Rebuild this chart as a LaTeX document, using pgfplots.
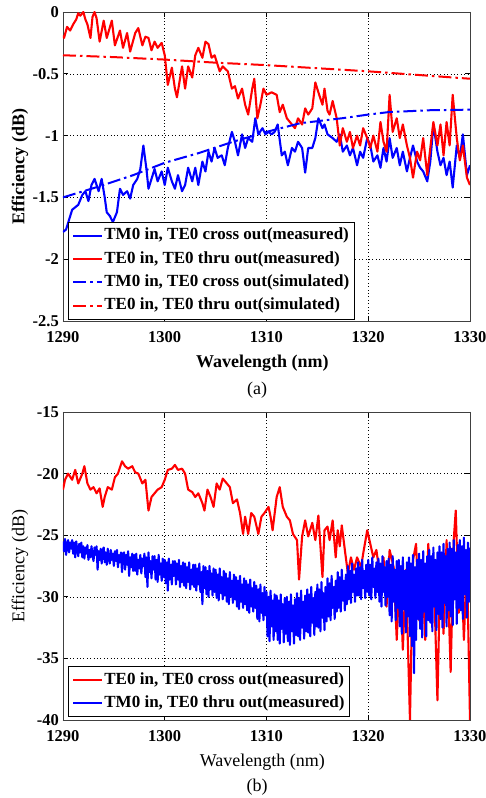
\documentclass[border=0pt]{standalone}
\usepackage{fontspec}
\setmainfont{Liberation Serif}
\usepackage{pgfplots}
\pgfplotsset{compat=1.18}
\definecolor{mred}{RGB}{255,0,0}
\definecolor{mblue}{RGB}{0,0,255}
\pgfplotsset{
  effaxis/.style={
    scale only axis, width=407pt, anchor=south west,
    xmin=1290, xmax=1330,
    xtick={1290,1300,1310,1320,1330},
    xticklabels={1290,1300,1310,1320,1330},
    grid=major,
    major grid style={black, line width=0.5pt, dash pattern=on 0.8pt off 2.6pt},
    tick align=inside, major tick length=5pt,
    axis line style={black!75, line width=0.8pt},
    tick style={black, line width=0.6pt},
    ticklabel style={font=\fontsize{16.5}{16.5}\selectfont\bfseries, inner sep=1pt},
    xticklabel style={yshift=-9pt},
    yticklabel style={xshift=-3pt},
    xlabel style={at={(axis description cs:0.49,-0.136)}, anchor=center},
    ylabel style={at={(axis description cs:-0.106,0.5)}, anchor=center},
    legend cell align=left,
    legend image code/.code={\draw[##1] (0pt,0pt) -- (29pt,0pt);},
  },
  meas/.style={line width=2.1pt, line join=round},
  simu/.style={line width=2pt, dash pattern=on 13pt off 4pt on 2.5pt off 4pt},
}
\begin{document}
\begin{tikzpicture}
\path[use as bounding box] (0pt,0pt) rectangle (486pt,798pt);
% ---------------- (a) ----------------
\begin{axis}[effaxis, at={(63pt,477pt)}, height=309pt,
  ymin=-2.5, ymax=0,
  ytick={-2.5,-2,-1.5,-1,-0.5,0},
  yticklabels={-2.5,-2,-1.5,-1,-0.5,0},
  xlabel={Wavelength (nm)}, ylabel={Efficiency (dB)},
  label style={font=\fontsize{18}{18}\selectfont\bfseries},
  legend style={at={(axis description cs:0.0123,0.0032)}, anchor=south west,
    draw=black, line width=0.6pt, fill=white,
    font=\fontsize{17}{17}\selectfont\bfseries,
    inner xsep=4pt, inner ysep=5pt, row sep=5.3pt,
    nodes={inner sep=1pt, text height=12pt, text depth=4pt}},
]
\addplot[meas, mblue] coordinates {
(1290.0,-1.78)(1290.3,-1.76)(1290.6,-1.68)(1290.9,-1.60)(1291.2,-1.58)(1291.5,-1.56)
(1291.9,-1.48)(1292.2,-1.45)(1292.5,-1.53)(1292.8,-1.40)(1293.1,-1.35)(1293.5,-1.45)
(1293.8,-1.35)(1294.1,-1.50)(1294.3,-1.62)(1294.6,-1.65)(1294.9,-1.70)(1295.3,-1.62)
(1295.6,-1.43)(1295.9,-1.48)(1296.3,-1.45)(1296.6,-1.51)(1296.9,-1.40)(1297.3,-1.35)
(1297.6,-1.27)(1297.9,-1.08)(1298.2,-1.27)(1298.4,-1.43)(1298.7,-1.35)(1299.0,-1.27)
(1299.3,-1.37)(1299.7,-1.29)(1300.0,-1.40)(1300.3,-1.26)(1300.7,-1.37)(1301.0,-1.43)
(1301.3,-1.32)(1301.7,-1.45)(1302.0,-1.40)(1302.3,-1.26)(1302.7,-1.37)(1303.0,-1.26)
(1303.3,-1.40)(1303.7,-1.21)(1304.0,-1.29)(1304.3,-1.13)(1304.6,-1.21)(1304.9,-1.10)
(1305.2,-1.18)(1305.6,-1.16)(1305.9,-1.24)(1306.2,-1.10)(1306.6,-0.97)(1306.9,-1.05)
(1307.2,-1.16)(1307.6,-0.99)(1307.9,-1.10)(1308.2,-1.02)(1308.6,-1.05)(1308.9,-0.86)
(1309.2,-0.99)(1309.6,-0.94)(1309.9,-0.99)(1310.2,-0.97)(1310.5,-0.99)(1310.8,-0.97)
(1311.1,-0.91)(1311.5,-1.16)(1311.8,-1.13)(1312.1,-1.24)(1312.5,-1.10)(1312.8,-1.13)
(1313.1,-1.05)(1313.5,-1.10)(1313.8,-1.30)(1314.1,-1.10)(1314.5,-1.10)(1314.8,-1.02)
(1315.1,-0.86)(1315.5,-0.94)(1315.7,-0.91)(1316.0,-0.99)(1316.5,-1.02)(1316.9,-1.05)
(1317.2,-0.99)(1317.5,-1.13)(1317.9,-1.08)(1318.2,-1.16)(1318.5,-1.10)(1318.9,-1.24)
(1319.2,-1.13)(1319.5,-1.18)(1319.9,-1.02)(1320.2,-1.08)(1320.5,-1.21)(1320.9,-1.16)
(1321.2,-1.26)(1321.5,-1.10)(1321.8,-1.21)(1322.1,-1.02)(1322.4,-1.18)(1322.8,-1.10)
(1323.1,-1.24)(1323.4,-1.13)(1323.8,-1.29)(1324.1,-1.18)(1324.4,-1.08)(1324.8,-1.21)
(1325.1,-1.26)(1325.4,-1.29)(1325.8,-1.37)(1326.1,-1.21)(1326.4,-0.91)(1326.8,-1.13)
(1327.1,-1.24)(1327.4,-1.18)(1327.7,-1.32)(1328.0,-1.21)(1328.3,-1.42)(1328.7,-1.08)
(1329.0,-1.18)(1329.3,-0.99)(1329.7,-1.32)(1330.0,-1.24)
};
\addlegendentry{TM0 in, TE0 cross out(measured)}
\addplot[meas, mred] coordinates {
(1290.0,-0.19)(1290.1,-0.21)(1290.4,-0.12)(1290.7,-0.15)(1291.0,-0.10)(1291.3,-0.06)
(1291.5,-0.01)(1291.7,-0.03)(1292.0,0.0)(1292.2,-0.06)(1292.4,-0.10)(1292.7,-0.21)
(1292.9,-0.04)(1293.1,0.0)(1293.3,-0.05)(1293.6,-0.24)(1294.0,-0.07)(1294.3,-0.21)
(1294.8,-0.07)(1295.1,-0.27)(1295.6,-0.15)(1295.9,-0.29)(1296.3,-0.17)(1296.6,-0.32)
(1297.1,-0.17)(1297.4,-0.13)(1297.8,-0.27)(1298.1,-0.20)(1298.4,-0.21)(1298.7,-0.31)
(1299.0,-0.24)(1299.3,-0.29)(1299.7,-0.25)(1300.0,-0.35)(1300.3,-0.59)(1300.7,-0.45)
(1301.0,-0.62)(1301.2,-0.69)(1301.7,-0.44)(1302.0,-0.62)(1302.3,-0.44)(1302.7,-0.53)
(1303.0,-0.35)(1303.3,-0.29)(1303.7,-0.37)(1304.0,-0.24)(1304.3,-0.26)(1304.6,-0.37)
(1304.9,-0.35)(1305.4,-0.48)(1305.7,-0.44)(1306.2,-0.48)(1306.6,-0.62)(1306.9,-0.60)
(1307.2,-0.70)(1307.6,-0.62)(1307.9,-0.75)(1308.2,-0.83)(1308.6,-0.62)(1308.8,-0.54)
(1309.1,-0.86)(1309.4,-0.75)(1309.7,-0.62)(1310.0,-0.67)(1310.5,-0.65)(1311.0,-0.67)
(1311.3,-0.81)(1311.6,-0.75)(1312.0,-0.86)(1312.3,-0.89)(1312.8,-0.94)(1313.1,-0.86)
(1313.5,-0.91)(1313.8,-0.78)(1314.1,-0.83)(1314.5,-0.78)(1314.8,-0.57)(1315.1,-0.65)
(1315.5,-0.75)(1315.7,-0.62)(1316.0,-0.80)(1316.2,-0.83)(1316.5,-0.72)(1316.9,-0.86)
(1317.2,-1.08)(1317.5,-0.94)(1317.9,-1.05)(1318.2,-0.97)(1318.5,-1.10)(1318.9,-1.00)
(1319.2,-1.08)(1319.5,-0.94)(1319.9,-1.02)(1320.2,-1.10)(1320.5,-1.00)(1320.9,-1.13)
(1321.2,-0.89)(1321.5,-1.05)(1321.8,-1.13)(1322.1,-0.67)(1322.4,-0.97)(1322.8,-0.86)
(1323.1,-1.02)(1323.4,-0.91)(1323.8,-1.08)(1324.1,-1.18)(1324.4,-1.34)(1324.8,-1.13)
(1325.1,-1.20)(1325.4,-1.02)(1325.8,-1.32)(1326.1,-1.10)(1326.4,-0.89)(1326.8,-1.08)
(1327.1,-0.91)(1327.4,-1.16)(1327.7,-0.89)(1328.0,-1.08)(1328.3,-0.67)(1328.7,-1.02)
(1329.0,-1.20)(1329.3,-1.08)(1329.7,-1.34)(1330.0,-1.40)
};
\addlegendentry{TE0 in, TE0 thru out(measured)}
\addplot[simu, mblue] coordinates {
(1290,-1.50)(1293.6,-1.41)(1296.9,-1.32)(1300,-1.22)(1303.4,-1.14)(1306.7,-1.05)
(1310,-0.97)(1313.3,-0.90)(1317.4,-0.86)(1320,-0.83)(1322,-0.81)(1326,-0.795)(1330,-0.79)
};
\addlegendentry{TM0 in, TE0 cross out(simulated)}
\addplot[simu, mred] coordinates {
(1290,-0.35)(1295,-0.365)(1300,-0.385)(1305,-0.41)(1310,-0.43)(1315,-0.455)
(1320,-0.48)(1325,-0.51)(1330,-0.54)
};
\addlegendentry{TE0 in, TE0 thru out(simulated)}
\end{axis}
\node[font=\fontsize{18}{18}\selectfont] at (257pt,408pt) {(a)};
% ---------------- (b) ----------------
\begin{axis}[effaxis, at={(63pt,78pt)}, height=308pt,
  ymin=-40, ymax=-15,
  ytick={-40,-35,-30,-25,-20,-15},
  yticklabels={-40,-35,-30,-25,-20,-15},
  xlabel={Wavelength (nm)}, ylabel={Efficiency (dB)},
  label style={font=\fontsize{18}{18}\selectfont},
  legend style={at={(axis description cs:0.0123,0.0097)}, anchor=south west,
    draw=black, line width=0.6pt, fill=white,
    font=\fontsize{17}{17}\selectfont\bfseries,
    inner xsep=4pt, inner ysep=4.5pt, row sep=5pt,
    nodes={inner sep=1pt, text height=12pt, text depth=4pt}},
]
\addplot[meas, mred] coordinates {
(1290.0,-21.3)(1290.2,-20.5)(1290.5,-20.0)(1290.9,-20.5)(1291.2,-19.7)(1291.5,-20.8)
(1291.9,-20.0)(1292.1,-19.4)(1292.4,-20.8)(1292.7,-21.3)(1293.0,-21.1)(1293.3,-21.6)
(1293.6,-21.2)(1293.9,-22.7)(1294.1,-21.9)(1294.4,-21.1)(1294.8,-21.3)(1295.1,-20.3)
(1295.4,-20.0)(1295.8,-19.0)(1296.1,-19.4)(1296.4,-19.6)(1296.8,-19.4)(1297.1,-19.9)
(1297.4,-20.0)(1297.8,-20.8)(1298.1,-20.5)(1298.4,-23.0)(1298.7,-21.9)(1299.0,-21.6)
(1299.3,-21.3)(1299.7,-21.1)(1300.0,-20.5)(1300.3,-19.7)(1300.7,-19.6)(1301.0,-19.3)
(1301.3,-19.7)(1301.7,-19.6)(1302.0,-20.0)(1302.3,-21.3)(1302.7,-21.5)(1303.0,-21.9)
(1303.3,-21.6)(1303.7,-22.4)(1303.9,-23.0)(1304.2,-21.3)(1304.5,-21.9)(1304.8,-22.7)
(1305.1,-20.8)(1305.4,-21.3)(1305.7,-20.4)(1306.1,-20.8)(1306.4,-21.1)(1306.7,-22.4)
(1307.1,-22.1)(1307.4,-23.2)(1307.7,-24.9)(1307.9,-23.5)(1308.2,-24.9)(1308.5,-23.2)
(1308.8,-23.5)(1309.2,-24.9)(1309.5,-23.5)(1309.8,-23.2)(1310.2,-22.7)(1310.4,-23.5)
(1310.6,-24.6)(1311.0,-21.9)(1311.3,-21.1)(1311.6,-22.7)(1312.0,-23.5)(1312.3,-23.8)
(1312.6,-24.9)(1313.0,-25.4)(1313.2,-28.6)(1313.5,-25.1)(1313.8,-23.8)(1314.1,-25.1)
(1314.5,-24.0)(1314.8,-25.4)(1315.1,-23.4)(1315.5,-28.4)(1315.7,-24.6)(1316.0,-24.3)
(1316.2,-25.4)(1316.5,-23.8)(1316.8,-26.8)(1317.0,-24.6)(1317.2,-25.9)(1317.4,-24.2)
(1317.7,-26.2)(1318.0,-28.1)(1318.3,-26.8)(1318.6,-27.8)(1318.9,-26.8)(1319.3,-27.6)
(1319.5,-26.5)(1319.9,-24.6)(1320.2,-25.7)(1320.5,-26.8)(1320.8,-26.2)(1321.2,-28.6)
(1321.5,-26.8)(1321.8,-30.8)(1322.1,-26.2)(1322.5,-27.6)(1322.8,-33.5)(1323.1,-27.6)
(1323.4,-34.3)(1323.7,-27.8)(1324.1,-40.0)(1324.4,-27.0)(1324.7,-25.7)(1325.0,-31.9)
(1325.3,-27.6)(1325.6,-33.5)(1325.9,-25.7)(1326.2,-31.3)(1326.4,-27.0)(1326.8,-38.4)
(1327.1,-26.8)(1327.4,-33.0)(1327.7,-25.4)(1328.1,-36.1)(1328.4,-25.4)(1328.6,-23.0)
(1328.9,-31.3)(1329.1,-26.2)(1329.4,-33.5)(1329.7,-26.8)(1330.0,-40.0)
};
\addlegendentry{TE0 in, TE0 cross out(measured)}
\addplot[meas, mblue] coordinates {
(1290.0,-25.5)(1290.1,-26.3)(1290.2,-25.3)(1290.3,-26.6)(1290.4,-25.8)(1290.5,-25.4)(1290.6,-26.4)(1290.7,-25.6)(1290.8,-26.1)(1290.9,-25.4)
(1291.0,-26.5)(1291.1,-25.6)(1291.2,-26.8)(1291.3,-25.5)(1291.4,-26.2)(1291.5,-26.7)(1291.6,-25.7)(1291.7,-26.4)(1291.8,-25.6)(1291.9,-26.8)
(1292.0,-25.9)(1292.1,-26.9)(1292.2,-26.0)(1292.3,-26.5)(1292.4,-25.8)(1292.5,-27.0)(1292.6,-26.2)(1292.7,-26.8)(1292.8,-25.9)(1292.9,-26.6)
(1293.0,-27.1)(1293.1,-26.0)(1293.2,-26.6)(1293.3,-25.9)(1293.4,-27.8)(1293.5,-26.3)(1293.6,-27.0)(1293.7,-26.1)(1293.8,-27.3)(1293.9,-26.2)
(1294.0,-26.0)(1294.1,-27.2)(1294.2,-26.4)(1294.3,-27.4)(1294.4,-26.1)(1294.5,-26.9)(1294.6,-27.3)(1294.7,-26.2)(1294.8,-27.0)(1294.9,-26.5)
(1295.0,-27.5)(1295.1,-26.3)(1295.2,-27.1)(1295.3,-26.2)(1295.4,-27.6)(1295.5,-26.6)(1295.6,-27.2)(1295.7,-26.4)(1295.8,-28.0)(1295.9,-26.5)
(1296.0,-26.4)(1296.1,-27.8)(1296.2,-26.6)(1296.3,-27.4)(1296.4,-26.3)(1296.5,-28.3)(1296.6,-26.8)(1296.7,-27.6)(1296.8,-26.5)(1296.9,-27.9)
(1297.0,-26.6)(1297.1,-27.9)(1297.2,-26.5)(1297.3,-28.2)(1297.4,-27.0)(1297.5,-27.7)(1297.6,-26.6)(1297.7,-28.1)(1297.8,-26.9)(1297.9,-27.5)
(1298.0,-26.5)(1298.1,-28.4)(1298.2,-26.8)(1298.3,-29.2)(1298.4,-26.4)(1298.5,-28.0)(1298.6,-27.1)(1298.7,-28.5)(1298.8,-26.7)(1298.9,-27.8)
(1299.0,-26.7)(1299.1,-28.6)(1299.2,-27.0)(1299.3,-28.8)(1299.4,-26.6)(1299.5,-28.2)(1299.6,-27.3)(1299.7,-28.7)(1299.8,-26.9)(1299.9,-28.4)
(1300.0,-27.0)(1300.1,-28.9)(1300.2,-27.2)(1300.3,-29.5)(1300.4,-26.9)(1300.5,-28.6)(1300.6,-27.4)(1300.7,-29.0)(1300.8,-27.1)(1300.9,-28.3)
(1301.0,-27.1)(1301.1,-29.0)(1301.2,-27.3)(1301.3,-28.6)(1301.4,-27.0)(1301.5,-29.2)(1301.6,-27.5)(1301.7,-28.8)(1301.8,-27.2)(1301.9,-29.1)
(1302.0,-27.3)(1302.1,-29.3)(1302.2,-27.6)(1302.3,-28.8)(1302.4,-27.2)(1302.5,-29.4)(1302.6,-27.8)(1302.7,-29.0)(1302.8,-27.4)(1302.9,-29.2)
(1303.0,-27.4)(1303.1,-29.5)(1303.2,-27.7)(1303.3,-29.0)(1303.4,-27.3)(1303.5,-29.6)(1303.6,-28.0)(1303.7,-30.6)(1303.8,-27.5)(1303.9,-29.3)
(1304.0,-27.6)(1304.1,-29.8)(1304.2,-27.9)(1304.3,-30.0)(1304.4,-27.5)(1304.5,-29.4)(1304.6,-28.1)(1304.7,-29.9)(1304.8,-27.7)(1304.9,-29.6)
(1305.0,-27.8)(1305.1,-30.1)(1305.2,-28.2)(1305.3,-30.3)(1305.4,-27.7)(1305.5,-29.7)(1305.6,-28.4)(1305.7,-30.2)(1305.8,-27.9)(1305.9,-29.9)
(1306.0,-28.1)(1306.1,-30.4)(1306.2,-28.5)(1306.3,-30.6)(1306.4,-28.0)(1306.5,-30.0)(1306.6,-28.7)(1306.7,-30.5)(1306.8,-28.2)(1306.9,-30.2)
(1307.0,-28.4)(1307.1,-30.8)(1307.2,-28.7)(1307.3,-31.0)(1307.4,-28.3)(1307.5,-30.4)(1307.6,-29.0)(1307.7,-30.9)(1307.8,-28.5)(1307.9,-30.6)
(1308.0,-28.7)(1308.1,-31.1)(1308.2,-29.0)(1308.3,-31.3)(1308.4,-28.6)(1308.5,-30.8)(1308.6,-29.3)(1308.7,-31.2)(1308.8,-28.8)(1308.9,-30.9)
(1309.0,-29.1)(1309.1,-31.8)(1309.2,-29.4)(1309.3,-32.0)(1309.4,-29.0)(1309.5,-31.3)(1309.6,-29.7)(1309.7,-31.9)(1309.8,-29.2)(1309.9,-31.5)
(1310.0,-29.6)(1310.1,-33.2)(1310.2,-30.0)(1310.3,-33.6)(1310.4,-29.5)(1310.5,-32.4)(1310.6,-30.3)(1310.7,-33.5)(1310.8,-29.8)(1310.9,-32.8)
(1311.0,-29.9)(1311.1,-33.5)(1311.2,-30.3)(1311.3,-33.8)(1311.4,-29.8)(1311.5,-32.6)(1311.6,-30.6)(1311.7,-33.7)(1311.8,-30.1)(1311.9,-33.0)
(1312.0,-30.0)(1312.1,-33.6)(1312.2,-30.4)(1312.3,-33.9)(1312.4,-29.8)(1312.5,-32.8)(1312.6,-30.7)(1312.7,-33.8)(1312.8,-30.2)(1312.9,-33.1)
(1313.0,-29.7)(1313.1,-33.2)(1313.2,-30.1)(1313.3,-33.5)(1313.4,-29.5)(1313.5,-32.5)(1313.6,-30.4)(1313.7,-33.4)(1313.8,-29.9)(1313.9,-32.8)
(1314.0,-29.4)(1314.1,-32.9)(1314.2,-29.8)(1314.3,-33.2)(1314.4,-29.2)(1314.5,-32.1)(1314.6,-30.1)(1314.7,-33.1)(1314.8,-29.6)(1314.9,-32.4)
(1315.0,-29.0)(1315.1,-32.5)(1315.2,-29.4)(1315.3,-32.8)(1315.4,-28.8)(1315.5,-31.7)(1315.6,-29.7)(1315.7,-32.7)(1315.8,-29.2)(1315.9,-32.0)
(1316.0,-28.5)(1316.1,-31.6)(1316.2,-28.9)(1316.3,-31.9)(1316.4,-28.3)(1316.5,-30.9)(1316.6,-29.2)(1316.7,-31.8)(1316.8,-28.7)(1316.9,-31.2)
(1317.0,-28.0)(1317.1,-30.9)(1317.2,-28.4)(1317.3,-31.2)(1317.4,-27.8)(1317.5,-30.3)(1317.6,-28.7)(1317.7,-31.1)(1317.8,-28.2)(1317.9,-30.6)
(1318.0,-27.5)(1318.1,-30.2)(1318.2,-27.9)(1318.3,-30.5)(1318.4,-27.3)(1318.5,-29.6)(1318.6,-28.2)(1318.7,-30.4)(1318.8,-27.7)(1318.9,-29.9)
(1319.0,-27.2)(1319.1,-29.9)(1319.2,-27.6)(1319.3,-30.2)(1319.4,-27.0)(1319.5,-29.3)(1319.6,-27.9)(1319.7,-30.1)(1319.8,-27.4)(1319.9,-29.6)
(1320.0,-27.0)(1320.1,-29.9)(1320.2,-27.4)(1320.3,-30.2)(1320.4,-26.8)(1320.5,-29.2)(1320.6,-27.7)(1320.7,-30.1)(1320.8,-27.2)(1320.9,-29.6)
(1321.0,-26.9)(1321.1,-30.4)(1321.2,-27.3)(1321.3,-30.8)(1321.4,-26.7)(1321.5,-29.6)(1321.6,-27.6)(1321.7,-30.7)(1321.8,-27.1)(1321.9,-30.0)
(1322.0,-26.9)(1322.1,-31.5)(1322.2,-27.4)(1322.3,-32.0)(1322.4,-26.7)(1322.5,-30.4)(1322.6,-27.8)(1322.7,-31.9)(1322.8,-27.1)(1322.9,-30.9)
(1323.0,-27.0)(1323.1,-32.4)(1323.2,-27.5)(1323.3,-33.0)(1323.4,-26.8)(1323.5,-31.0)(1323.6,-27.9)(1323.7,-32.9)(1323.8,-27.2)(1323.9,-31.6)
(1324.0,-26.8)(1324.1,-33.2)(1324.2,-27.3)(1324.3,-34.0)(1324.4,-26.6)(1324.5,-36.2)(1324.6,-27.6)(1324.7,-33.5)(1324.8,-27.0)(1324.9,-31.8)
(1325.0,-26.5)(1325.1,-32.6)(1325.2,-27.0)(1325.3,-33.3)(1325.4,-26.3)(1325.5,-31.2)(1325.6,-27.3)(1325.7,-33.2)(1325.8,-26.7)(1325.9,-31.9)
(1326.0,-26.2)(1326.1,-32.1)(1326.2,-26.7)(1326.3,-32.8)(1326.4,-26.0)(1326.5,-30.8)(1326.6,-27.0)(1326.7,-32.7)(1326.8,-26.4)(1326.9,-31.4)
(1327.0,-25.9)(1327.1,-31.8)(1327.2,-26.4)(1327.3,-32.5)(1327.4,-25.7)(1327.5,-30.5)(1327.6,-26.7)(1327.7,-32.4)(1327.8,-26.1)(1327.9,-31.1)
(1328.0,-25.6)(1328.1,-31.6)(1328.2,-26.1)(1328.3,-32.3)(1328.4,-25.4)(1328.5,-30.2)(1328.6,-26.4)(1328.7,-32.2)(1328.8,-25.8)(1328.9,-30.9)
(1329.0,-25.4)(1329.1,-31.1)(1329.2,-25.9)(1329.3,-31.8)(1329.4,-25.2)(1329.5,-29.8)(1329.6,-26.2)(1329.7,-31.7)(1329.8,-25.6)(1329.9,-30.4)
(1330.0,-26.0)
};
\addlegendentry{TM0 in, TE0 thru out(measured)}
\end{axis}
\node[font=\fontsize{18}{18}\selectfont] at (257pt,11pt) {(b)};
\end{tikzpicture}
\end{document}
